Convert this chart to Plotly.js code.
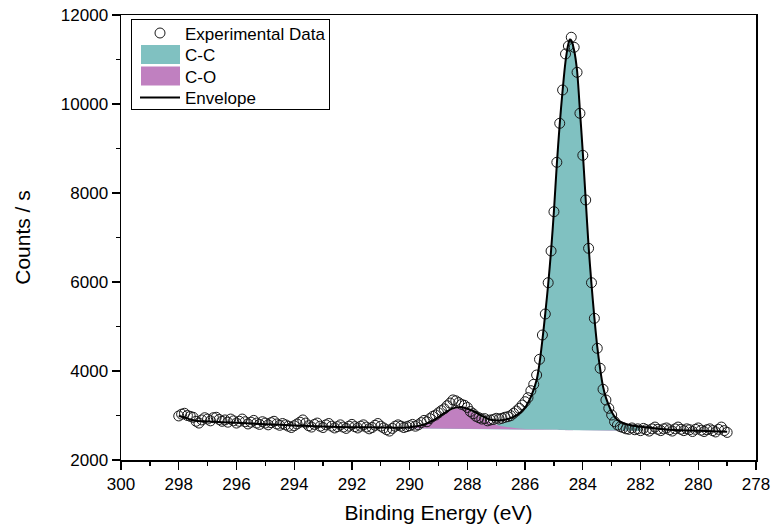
<!DOCTYPE html>
<html>
<head>
<meta charset="utf-8">
<script src="https://cdn.plot.ly/plotly-3.0.1.min.js"></script>
<style>
html,body{margin:0;padding:0;background:#fff;}
#chart{width:771px;height:528px;}
</style>
</head>
<body>
<div id="chart"></div>
<script>
// Experimental data (binding energy in eV, counts/s)
var dataX = [
298.0,297.9,297.8,297.7,297.6,297.5,297.4,297.3,297.2,297.1,
297.0,296.9,296.8,296.7,296.6,296.5,296.4,296.3,296.2,296.1,
296.0,295.9,295.8,295.7,295.6,295.5,295.4,295.3,295.2,295.1,
295.0,294.9,294.8,294.7,294.6,294.5,294.4,294.3,294.2,294.1,
294.0,293.9,293.8,293.7,293.6,293.5,293.4,293.3,293.2,293.1,
293.0,292.9,292.8,292.7,292.6,292.5,292.4,292.3,292.2,292.1,
292.0,291.9,291.8,291.7,291.6,291.5,291.4,291.3,291.2,291.1,
291.0,290.9,290.8,290.7,290.6,290.5,290.4,290.3,290.2,290.1,
290.0,289.9,289.8,289.7,289.6,289.5,289.4,289.3,289.2,289.1,
289.0,288.9,288.8,288.7,288.6,288.5,288.4,288.3,288.2,288.1,
288.0,287.9,287.8,287.7,287.6,287.5,287.4,287.3,287.2,287.1,
287.0,286.9,286.8,286.7,286.6,286.5,286.4,286.3,286.2,286.1,
286.0,285.9,285.8,285.7,285.6,285.5,285.4,285.3,285.2,285.1,
285.0,284.9,284.8,284.7,284.6,284.5,284.4,284.3,284.2,284.1,
284.0,283.9,283.8,283.7,283.6,283.5,283.4,283.3,283.2,283.1,
283.0,282.9,282.8,282.7,282.6,282.5,282.4,282.3,282.2,282.1,
282.0,281.9,281.8,281.7,281.6,281.5,281.4,281.3,281.2,281.1,
281.0,280.9,280.8,280.7,280.6,280.5,280.4,280.3,280.2,280.1,
280.0,279.9,279.8,279.7,279.6,279.5,279.4,279.3,279.2,279.1,
279.0
];
var dataY = [
2990,3030,3050,3000,2980,2960,2870,2830,2900,2950,
2920,2880,2950,2960,2910,2870,2900,2850,2920,2880,
2830,2870,2920,2860,2810,2850,2890,2830,2800,2860,
2830,2790,2840,2870,2810,2780,2820,2790,2760,2730,
2770,2810,2850,2900,2830,2770,2740,2800,2830,2760,
2730,2790,2820,2760,2720,2750,2790,2740,2710,2760,
2800,2750,2720,2760,2790,2740,2700,2730,2780,2820,
2760,2720,2680,2650,2710,2760,2790,2760,2730,2750,
2770,2800,2760,2790,2840,2890,2860,2930,2980,3010,
3060,3110,3150,3220,3280,3350,3330,3290,3250,3230,
3180,3090,3040,2980,2950,2920,2930,2880,2900,2910,
2937,2921,2937,2960,2973,2995,3049,3101,3162,3236,
3310,3400,3557,3701,3910,4263,4809,5281,5984,6697,
7580,8690,9566,10315,11124,11303,11500,11274,10712,9791,
8847,7843,6757,5984,5184,4510,4061,3589,3348,3162,
3011,2861,2787,2748,2726,2700,2690,2720,2680,2700,
2660,2710,2680,2650,2700,2740,2690,2660,2700,2720,
2680,2650,2700,2740,2690,2660,2700,2680,2640,2690,
2720,2670,2640,2680,2700,2660,2630,2690,2740,2660,
2620
];

// Fitted components (top edges) and background
var compX = [290.2,290.0,289.7,289.4,289.1,288.8,288.5,288.3,288.1,287.8,287.5,287.2,286.9,286.6,286.3,286.0,285.8,285.6,285.5,285.4,285.3,285.2,285.1,285.0,284.9,284.8,284.7,284.6,284.5,284.45,284.4,284.3,284.2,284.1,284.0,283.9,283.8,283.7,283.6,283.5,283.4,283.3,283.2,283.1,283.0,282.8,282.6,282.3,282.0];
var background = [2712,2711,2709,2708,2706,2704,2702,2701,2700,2698,2697,2695,2693,2691,2689,2687,2686,2684,2683,2682,2681,2680,2679,2678,2677,2675,2674,2672,2670,2669,2668,2666,2664,2662,2660,2659,2658,2657,2656,2655,2654,2654,2653,2653,2652,2652,2651,2651,2650];
var ccTop = [2717,2717,2717,2718,2718,2719,2721,2723,2726,2731,2742,2765,2813,2881,2979,3167,3411,3792,4167,4697,5296,5945,6699,7598,8647,9550,10301,10950,11350,11449,11430,11201,10751,9850,8900,7849,6800,5950,5199,4548,4047,3649,3399,3226,3076,2898,2828,2774,2745];
var coTop = [2722,2729,2754,2813,2911,3039,3142,3166,3150,3068,2947,2835,2768,2731,2711,2699,2695,2691,2689,2687,2685,2684,2683,2681,2680,2678,2677,2675,2673,2672,2671,2669,2667,2665,2663,2662,2661,2659,2658,2657,2656,2656,2655,2655,2654,2653,2652,2652,2651];

// Envelope (sum of fit)
var envX = [298.0,297.8,297.6,297.4,297.0,296.5,296.0,295.0,294.0,293.0,292.0,291.0,290.5,290.2,290.0,289.7,289.4,289.1,288.8,288.5,288.3,288.1,287.8,287.5,287.2,286.9,286.6,286.3,286.0,285.8,285.6,285.5,285.4,285.3,285.2,285.1,285.0,284.9,284.8,284.7,284.6,284.5,284.45,284.4,284.3,284.2,284.1,284.0,283.9,283.8,283.7,283.6,283.5,283.4,283.3,283.2,283.1,283.0,282.8,282.6,282.3,282.0,281.5,281.0,280.0,279.0];
var envY = [2990,2960,2910,2880,2865,2850,2835,2805,2775,2752,2738,2730,2727,2727,2735,2762,2823,2923,3054,3161,3188,3176,3101,2992,2905,2888,2921,3001,3179,3420,3799,4173,4702,5300,5949,6702,7601,8650,9553,10304,10952,11352,11451,11432,11203,10753,9852,8902,7851,6802,5952,5201,4550,4049,3651,3401,3228,3078,2900,2830,2776,2747,2712,2682,2655,2636];

var legendNames = ["Experimental Data","C-C","C-O","Envelope"];
var ccColor = "#80C1C1", coColor = "#C080C0";
var FONT = "Liberation Sans, Arial, sans-serif";

var revX = compX.slice().reverse();
var revBg = background.slice().reverse();

var traces = [
  {
    x: compX.concat(revX), y: ccTop.concat(revBg),
    type: "scatter", mode: "lines", fill: "toself",
    fillcolor: ccColor, line: {width: 0, color: ccColor},
    name: legendNames[1], legendrank: 2, hoverinfo: "skip"
  },
  {
    x: compX.concat(revX), y: coTop.concat(revBg),
    type: "scatter", mode: "lines", fill: "toself",
    fillcolor: coColor, line: {width: 0, color: coColor},
    name: legendNames[2], legendrank: 3, hoverinfo: "skip"
  },
  {
    x: dataX, y: dataY, type: "scatter", mode: "markers",
    marker: {symbol: "circle-open", size: 10, color: "#1a1a1a", line: {width: 1}},
    name: legendNames[0], legendrank: 1
  },
  {
    x: envX, y: envY, type: "scatter", mode: "lines",
    line: {color: "#000", width: 2, shape: "spline", smoothing: 0.8},
    name: legendNames[3], legendrank: 4
  }
];

var layout = {
  width: 771, height: 528,
  margin: {l: 121, r: 15, t: 15, b: 68},
  paper_bgcolor: "#fff", plot_bgcolor: "#fff",
  font: {family: FONT, color: "#000", size: 17},
  showlegend: true,
  legend: {
    x: 0.016, y: 0.99, xanchor: "left", yanchor: "top",
    bgcolor: "#fff", bordercolor: "#000", borderwidth: 1,
    font: {family: FONT, size: 17, color: "#000"},
    tracegroupgap: 0
  },
  xaxis: {
    range: [300, 278], tick0: 278, dtick: 2,
    ticks: "outside", ticklen: 8, tickwidth: 1.3, tickcolor: "#000",
    minor: {dtick: 1, ticks: "outside", ticklen: 4, tickwidth: 1.3, tickcolor: "#000"},
    showline: true, linecolor: "#000", linewidth: 1.5, mirror: true,
    showgrid: false, zeroline: false,
    tickfont: {family: FONT, size: 17, color: "#000"},
    title: {text: "Binding Energy (eV)", font: {family: FONT, size: 21, color: "#000"}, standoff: 12}
  },
  yaxis: {
    range: [2000, 12000], tick0: 2000, dtick: 2000, tickformat: "d",
    ticks: "outside", ticklen: 8, tickwidth: 1.3, tickcolor: "#000",
    minor: {dtick: 1000, ticks: "outside", ticklen: 4, tickwidth: 1.3, tickcolor: "#000"},
    showline: true, linecolor: "#000", linewidth: 1.5, mirror: true,
    showgrid: false, zeroline: false,
    tickfont: {family: FONT, size: 17, color: "#000"},
    title: {text: "Counts / s", font: {family: FONT, size: 21, color: "#000"}, standoff: 24}
  }
};

var gd = document.getElementById("chart");
Plotly.newPlot(gd, traces, layout, {staticPlot: true, displayModeBar: false}).then(function () {
  // Compact the legend box to resemble the reference's boxed legend
  var leg = gd.querySelector("g.legend");
  if (!leg) return;
  leg.setAttribute("transform", "translate(131,19)");
  var bg = leg.querySelector("rect.bg");
  if (bg) {
    bg.setAttribute("x", "0.5"); bg.setAttribute("y", "0.5");
    bg.setAttribute("width", "198"); bg.setAttribute("height", "90");
  }
  var sb = leg.querySelector("g.scrollbox");
  if (sb) { sb.removeAttribute("clip-path"); sb.setAttribute("transform", "translate(0,0)"); }
  var groups = leg.querySelectorAll("g.groups");
  groups.forEach(function (g) { g.setAttribute("transform", "translate(0,0)"); });
  var items = leg.querySelectorAll("g.traces");
  items.forEach(function (it, i) {
    it.setAttribute("transform", "translate(9," + (14 + i * 21.5) + ")");
    var t = it.querySelector("text.legendtext");
    if (t) t.setAttribute("x", "45");
    var f = it.querySelector("g.legendfill path");
    if (f) f.setAttribute("d", "M1,-9.5h39v19h-39z");
    var l = it.querySelector("g.legendlines path");
    if (l) l.setAttribute("d", "M0,0h40");
    var s = it.querySelector("g.legendsymbols path.point");
    if (s) s.setAttribute("d", "M4,0A4,4 0 1,1 0,-4A4,4 0 0,1 4,0Z");
  });
});
</script>
</body>
</html>
